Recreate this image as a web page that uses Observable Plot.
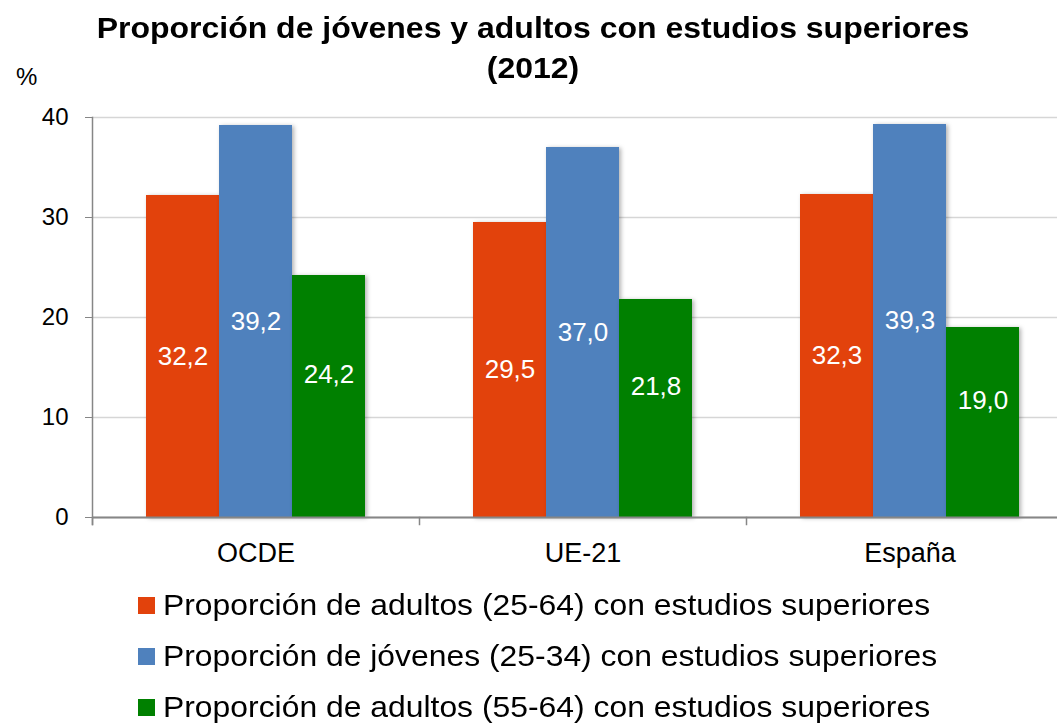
<!DOCTYPE html>
<html><head><meta charset="utf-8">
<script src="https://cdn.jsdelivr.net/npm/d3@7"></script>
<script src="https://cdn.jsdelivr.net/npm/@observablehq/plot@0.6"></script>
<style>
html,body{margin:0;padding:0;background:#fff;overflow:hidden;}
#wrap{position:relative;width:1057px;height:723px;overflow:hidden;font-family:"Liberation Sans",Arial,sans-serif;color:#000;}
#title{position:absolute;left:0;top:8px;width:1066px;text-align:center;font-weight:bold;font-size:29px;line-height:40px;transform:scaleX(1.103);transform-origin:533px 0;white-space:nowrap;}
#pct{position:absolute;left:16px;top:63px;font-size:24px;}
#chart{position:absolute;left:0;top:0;}
#legend{position:absolute;left:138px;top:580px;}
.row{display:flex;align-items:center;height:51px;font-size:29px;white-space:nowrap;}
.sw{width:17px;height:17px;margin-right:8px;flex:none;}
.lt{display:inline-block;transform:scaleX(1.099);transform-origin:0 50%;}
#chart g[aria-label="bar"] rect{filter:drop-shadow(2px 1px 2px rgba(0,0,0,.3));}
</style></head><body>
<div id="wrap">
  <div id="title">Proporción de jóvenes y adultos con estudios superiores<br>(2012)</div>
  <div id="pct">%</div>
  <div id="chart"></div>
  <div id="legend"></div>
</div>
<script>
const groups = ["OCDE", "UE-21", "España"];
const series = [
  "Proporción de adultos (25-64) con estudios superiores",
  "Proporción de jóvenes (25-34) con estudios superiores",
  "Proporción de adultos (55-64) con estudios superiores"
];
const colors = ["#E2420C", "#4F81BD", "#008000"];
const adultos = [32.2, 29.5, 32.3];
const jovenes = [39.2, 37.0, 39.3];
const mayores = [24.2, 21.8, 19.0];
const yTicks = [0, 10, 20, 30, 40];

const valuesBySeries = [adultos, jovenes, mayores];
const data = groups.flatMap((g, i) => series.map((s, j) => ({group: g, serie: s, value: valuesBySeries[j][i]})));
const fmt = v => v.toFixed(1).replace(".", ",");
const gray = "#868686";

const chart = Plot.plot({
  width: 1057, height: 580,
  marginLeft: 92, marginRight: -16, marginTop: 117, marginBottom: 63,
  style: {fontFamily: "Liberation Sans, Arial, sans-serif", background: "transparent", overflow: "hidden"},
  fx: {domain: groups, padding: 0, label: null},
  x: {domain: series, paddingInner: 0, paddingOuter: 54 / 73, axis: null},
  y: {domain: [0, 40], label: null},
  color: {domain: series, range: colors},
  marks: [
    Plot.gridY(yTicks, {stroke: "#d6d6d6", strokeOpacity: 1, strokeWidth: 1.5}),
    Plot.barY(data, {fx: "group", x: "serie", y: "value", fill: "serie"}),
    Plot.text(data.filter(d => d.serie !== series[2]), {fx: "group", x: "serie", y: d => d.value / 2, text: d => fmt(d.value), fill: "white", fontSize: 26}),
    Plot.text(data.filter(d => d.serie === series[2]), {fx: "group", x: "serie", y: d => d.value / 2, text: d => fmt(d.value), fill: "white", fontSize: 26, dy: -22}),
    Plot.ruleY([0], {stroke: gray, strokeWidth: 2}),
    Plot.frame({anchor: "left", stroke: gray, strokeWidth: 1.5, insetBottom: -7, facet: "super"}),
    Plot.frame({anchor: "left", stroke: gray, strokeWidth: 1.5, insetTop: 400, insetBottom: -7}),
    Plot.axisY({ticks: yTicks, tickSize: 7, tickPadding: 17, fontSize: 24, stroke: gray, label: null}),
    Plot.axisFx({anchor: "bottom", tickSize: 0, tickPadding: 25, fontSize: 27, label: null})
  ]
});
document.getElementById("chart").appendChild(chart);

const legend = document.getElementById("legend");
series.forEach((s, i) => {
  const row = document.createElement("div");
  row.className = "row";
  const sw = document.createElement("div");
  sw.className = "sw";
  sw.style.background = colors[i];
  const t = document.createElement("span");
  t.className = "lt";
  t.textContent = s;
  row.appendChild(sw);
  row.appendChild(t);
  legend.appendChild(row);
});
</script>
</body></html>
